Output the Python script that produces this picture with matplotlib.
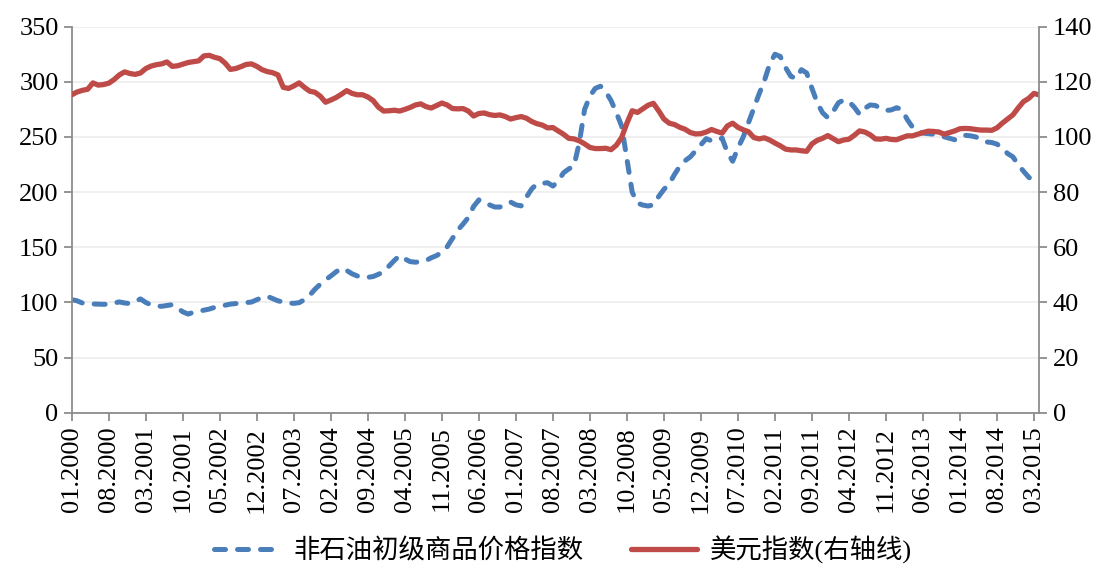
import matplotlib
matplotlib.use("Agg")
import matplotlib.pyplot as plt
import numpy as np

# monthly series, 01.2000 - 04.2015
commodity = [
    102.5, 101.5, 99.5, 98.8, 98.6, 98.5, 98.3, 98.4, 99.5, 100.5, 99.5, 99.0,
    101.0, 103.2, 100.0, 97.8, 96.8, 96.5, 97.2, 98.0, 95.0, 91.5, 89.5, 91.0,
    92.0, 93.0, 94.0, 95.5, 96.5, 97.5, 98.5, 99.0, 99.3, 99.8, 100.4, 102.5,
    104.5, 105.5, 103.5, 101.5, 100.3, 99.5, 99.2, 99.8, 102.5, 106.5, 112.0, 116.5,
    120.5, 124.0, 127.8, 131.0, 129.0, 126.0, 124.0, 122.8, 122.8, 123.5, 125.5, 128.0,
    133.0, 138.0, 142.5, 139.5, 137.0, 136.5, 136.9, 138.0, 140.5, 142.5, 145.5, 150.5,
    158.0, 165.5, 171.0, 177.0, 187.0, 193.0, 189.5, 188.5, 186.5, 186.5, 189.0, 191.0,
    188.5, 187.5, 195.5, 203.0, 207.5, 208.0, 208.5, 205.5, 210.0, 217.5, 221.0, 224.0,
    245.0, 275.0, 287.0, 294.0, 296.0, 291.0, 283.0, 272.0, 260.0, 230.0, 200.0, 190.0,
    188.3, 187.4, 188.5, 196.0, 202.5, 207.5, 216.0, 223.5, 228.5, 232.0, 237.5, 243.0,
    248.5, 246.5, 246.5, 249.0, 236.0, 228.0, 240.0, 250.0, 263.0, 276.0, 289.0, 301.0,
    316.0, 325.0, 323.0, 313.0, 305.0, 303.0, 311.0, 308.0, 294.0, 281.0, 272.0, 267.5,
    273.0, 281.0, 283.5, 282.0, 277.0, 270.5, 276.0, 279.0, 278.5, 276.0, 274.0, 274.5,
    276.5, 275.0, 266.0, 259.0, 255.5, 253.5, 253.0, 252.5, 251.5, 250.2, 249.0, 247.5,
    248.5, 251.5, 251.0, 250.0, 247.5, 245.5, 245.0, 243.5, 240.0, 235.0, 232.0, 225.0,
    219.0, 213.5, 210.0, 207.5,
]

dollar = [
    115.3, 116.3, 116.9, 117.3, 119.6, 118.8, 119.0, 119.5, 120.8, 122.5, 123.6, 123.0,
    122.7, 123.2, 124.8, 125.7, 126.2, 126.5, 127.2, 125.6, 125.8, 126.4, 127.0, 127.3,
    127.6, 129.4, 129.6, 128.9, 128.4, 126.8, 124.5, 124.8, 125.5, 126.3, 126.5, 125.6,
    124.4, 123.7, 123.3, 122.5, 118.0, 117.6, 118.5, 119.6, 118.0, 116.6, 116.2, 114.8,
    112.6, 113.4, 114.3, 115.5, 116.8, 115.8, 115.3, 115.3, 114.5, 113.2, 110.8, 109.4,
    109.5, 109.7, 109.4, 110.0, 110.7, 111.6, 112.0, 111.0, 110.5, 111.4, 112.3, 111.6,
    110.3, 110.2, 110.3, 109.4, 107.6, 108.5, 108.7, 108.1, 107.8, 108.0, 107.4, 106.5,
    107.0, 107.4, 106.8, 105.6, 104.8, 104.3, 103.3, 103.4, 102.2, 101.0, 99.5, 99.3,
    98.6, 97.5, 96.2, 95.8, 95.8, 95.9, 95.4, 97.0, 99.8, 105.0, 109.5, 108.9,
    110.2, 111.5, 112.2, 109.5, 106.5, 105.0, 104.5, 103.5, 102.8, 101.6, 101.1, 101.2,
    101.8, 102.7, 102.0, 101.4, 104.0, 105.0, 103.5, 102.6, 101.9, 99.8, 99.3, 99.7,
    98.9, 97.8, 96.8, 95.6, 95.3, 95.3, 95.0, 94.8, 97.5, 98.8, 99.5, 100.5,
    99.4, 98.3, 98.9, 99.2, 100.6, 102.2, 101.8, 100.8, 99.3, 99.2, 99.5, 99.1,
    99.0, 99.7, 100.4, 100.4, 101.0, 101.6, 102.1, 102.0, 101.8, 101.0, 101.6, 102.2,
    103.0, 103.1, 103.0, 102.7, 102.5, 102.5, 102.4, 103.3, 105.0, 106.5, 108.0, 110.5,
    112.8, 114.0, 115.8, 115.2,
]

tick_labels = [
    "01.2000", "08.2000", "03.2001", "10.2001", "05.2002", "12.2002", "07.2003",
    "02.2004", "09.2004", "04.2005", "11.2005", "06.2006", "01.2007", "08.2007",
    "03.2008", "10.2008", "05.2009", "12.2009", "07.2010", "02.2011", "09.2011",
    "04.2012", "11.2012", "06.2013", "01.2014", "08.2014", "03.2015",
]

name_commodity = "非石油初级商品价格指数"
name_dollar = "美元指数(右轴线)"

blue = "#4a7ebb"
red = "#be4b48"
spine_gray = "#8c8c8c"
fs = 19
fam = ["Liberation Serif", "Noto Sans CJK SC"]
plt.rcParams["font.family"] = fam

months = np.arange(len(commodity))

fig = plt.figure(figsize=(11.04, 5.67), dpi=100)
ax = fig.add_axes([0.065, 0.272, 0.8764, 0.681])
ax2 = ax.twinx()

l1, = ax.plot(months, commodity, color=blue, lw=3.6, dashes=(2.2, 2.4),
              dash_capstyle="round", solid_capstyle="round")
l2, = ax2.plot(months, dollar, color=red, lw=3.8, solid_capstyle="round",
               solid_joinstyle="round")

ax.set_xlim(0, len(commodity) - 1)
ax.set_ylim(0, 350)
ax2.set_ylim(0, 140)
ax.set_yticks(np.arange(0, 351, 50))
ax2.set_yticks(np.arange(0, 141, 20))
ax.set_xticks(np.arange(0, len(commodity), 7)[:len(tick_labels)])
ax.set_xticklabels(tick_labels, rotation=90, fontsize=fs)

ax.grid(axis="y", color="#ececec", lw=1.2)
ax.set_axisbelow(True)

for a in (ax, ax2):
    a.spines["top"].set_visible(False)
    for s in ("left", "right", "bottom"):
        a.spines[s].set_color(spine_gray)
        a.spines[s].set_linewidth(1.3)
    a.tick_params(axis="y", labelsize=fs, color=spine_gray, length=6, width=1.3)
ax.spines["right"].set_visible(False)
ax2.spines["left"].set_visible(False)
ax2.spines["bottom"].set_visible(False)
ax.tick_params(axis="x", color=spine_gray, length=6, width=1.3, pad=4)

fig.legend([l1, l2], [name_commodity, name_dollar], loc="center",
           bbox_to_anchor=(0.51, 0.03), ncol=2, frameon=False, fontsize=fs,
           handlelength=2.5, handletextpad=0.5, columnspacing=1.8)

fig.savefig("out.png", dpi=100)
